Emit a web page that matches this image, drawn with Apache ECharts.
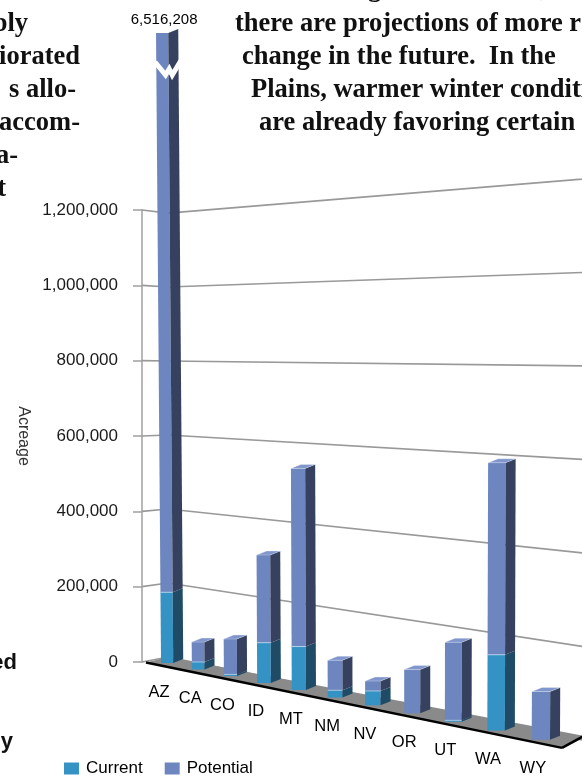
<!DOCTYPE html>
<html>
<head>
<meta charset="utf-8">
<script src="https://cdn.jsdelivr.net/npm/echarts@6/dist/echarts.min.js"></script>
<style>
html, body { margin: 0; padding: 0; background: #fff; }
#chart { width: 582px; height: 777px; }
</style>
</head>
<body>
<div id="chart"></div>
<script>
const states = ['AZ', 'CA', 'CO', 'ID', 'MT', 'NM', 'NV', 'OR', 'UT', 'WA', 'WY'];
const current = [185000, 19000, 4000, 99000, 105000, 17000, 33000, 0, 3000, 164000, 0];
const potential = [6331208, 51000, 89000, 216000, 430000, 71000, 23000, 99000, 173000, 416000, 102000];
const yTicks = [0, 200000, 400000, 600000, 800000, 1000000, 1200000];

const SANS = '"Liberation Sans", Arial, sans-serif';
const SERIF = '"Liberation Serif", "Times New Roman", serif';

const PERSP = 0.2;        // spacing of categories grows to the right
const AXIS_OFFSET = 10;   // left axis sits a bit left of the floor
const DEPTH = [10, 4];    // side / top face depth of a bar
const CAP_Y = 33;         // the AZ bar is cut here

const COLORS = {
    current: { front: '#3592c4', side: '#1f4b67', top: '#4ba1cd' },
    potential: { front: '#6d86c0', side: '#35415f', top: '#8196cc' }
};

let chart = echarts.init(document.getElementById('chart'));

function warpX(px, rect) {
    let u = (px - rect.x) / rect.width;
    return rect.x + rect.width * (1 - PERSP) * u / (1 - PERSP * u);
}
function frontBase(X, py0) { return py0 + 0.205 * (X - 162); }
function frontScale(X) { return 1 + (X - 142) * 0.000637; }
function backScale(x) { return 0.9916 + (x - 183) * 0.000624; }
function backBase(x, py0) { return py0 - 2 + 0.2 * (x - 183); }
function lean(X, h) { return h * 3.3e-5 * (X - 407); }

// back wall + left wall grid lines
function renderFrame(params, api) {
    let rect = params.coordSys;
    let v = api.value(1);
    let py0 = api.coord([0, 0])[1];
    let hv = py0 - api.coord([0, v])[1];
    let axisX = rect.x - AXIS_OFFSET;
    let yb = x => backBase(x, py0) - hv * backScale(x);
    return {
        type: 'polyline',
        shape: { points: [[axisX, py0 - hv], [168, yb(168)], [610, yb(610)]] },
        style: { stroke: '#999999', lineWidth: 1.7, fill: null }
    };
}

function renderFloor(params, api) {
    let rect = params.coordSys;
    let py0 = api.coord([0, 0])[1];
    let x0 = rect.x - AXIS_OFFSET + 4;
    let x1 = rect.x + rect.width - 2;
    let fy = x => py0 + 1 + 0.205 * (x - 148);
    let F1 = [x0, fy(x0)], F2 = [x1, fy(x1)];
    let B1 = [168, backBase(168, py0)], B2 = [x1 + 22, fy(x1) - 12];
    return {
        type: 'group',
        children: [
            { type: 'polygon', shape: { points: [F1, B1, B2, F2] }, style: { fill: '#8a8a8a' } },
            { type: 'line', shape: { x1: F1[0], y1: F1[1], x2: F2[0], y2: F2[1] }, style: { stroke: '#000', lineWidth: 2.5 } },
            { type: 'line', shape: { x1: F2[0], y1: F2[1], x2: B2[0], y2: B2[1] }, style: { stroke: '#000', lineWidth: 2.5 } }
        ]
    };
}

function renderBar(kind) {
    return function (params, api) {
        let rect = params.coordSys;
        let i = api.value(0);
        let lo = api.value(1), hi = api.value(2);
        let pz = api.coord([i, 0]);
        let X = warpX(pz[0], rect);
        let u = (pz[0] - rect.x) / rect.width;
        let stretch = (1 - PERSP) / Math.pow(1 - PERSP * u, 2);
        let w = api.size([1, 0])[0] * 0.4 * stretch;
        let base = frontBase(X, pz[1]);
        let k = frontScale(X);
        let yLo = base - (pz[1] - api.coord([i, lo])[1]) * k;
        let yHi = base - (pz[1] - api.coord([i, hi])[1]) * k;
        let broken = false;
        if (yHi < CAP_Y) { yHi = CAP_Y; broken = true; }
        let c = COLORS[kind];
        let dx = DEPTH[0], dy = DEPTH[1];
        let children = [];
        if (hi > lo) {
            let sLo = lean(X, base - yLo), sHi = lean(X, base - yHi);
            let xl = X - w / 2, xr = X + w / 2;
            children.push({
                type: 'polygon',
                shape: { points: [[xl + sLo, yLo], [xr + sLo, yLo], [xr + sHi, yHi], [xl + sHi, yHi]] },
                style: { fill: c.front }
            });
            children.push({
                type: 'polygon',
                shape: { points: [[xr + sLo, yLo], [xr + sHi, yHi], [xr + sHi + dx, yHi - dy], [xr + sLo + dx, yLo - dy]] },
                style: { fill: c.side }
            });
            if (kind === 'potential' && lo > 0) {
                children.push({
                    type: 'line',
                    shape: { x1: xl + sLo, y1: yLo, x2: xr + sLo, y2: yLo },
                    style: { stroke: 'rgba(200,225,245,0.7)', lineWidth: 1 }
                });
            }
            if (kind === 'potential' && !broken) {
                children.push({
                    type: 'polygon',
                    shape: { points: [[xl + sHi, yHi], [xr + sHi, yHi], [xr + sHi + dx, yHi - dy], [xl + sHi + dx, yHi - dy]] },
                    style: { fill: c.top, stroke: 'rgba(255,255,255,0.35)', lineWidth: 0.8 }
                });
            }
            if (kind === 'potential' && broken) {
                let xs = xl + sHi;
                children.push({
                    type: 'polyline',
                    shape: { points: [[xs - 1, yHi + 29], [xs + w * 0.78, yHi + 42], [xs + w + 1, yHi + 36], [xs + w + 4, yHi + 42], [xs + w + dx + 3, yHi + 27]] },
                    style: { stroke: '#fff', lineWidth: 5, fill: null, lineJoin: 'miter' }
                });
                children.push({
                    type: 'text',
                    style: {
                        text: (current[i] + potential[i]).toLocaleString('en-US'),
                        x: X + sHi + 2, y: yHi - 13,
                        align: 'center', verticalAlign: 'middle',
                        fontSize: 15, fontFamily: SANS, fill: '#000'
                    }
                });
            }
        }
        if (kind === 'potential') {
            children.push({
                type: 'text',
                style: {
                    text: states[i], x: X - 8, y: base + 29,
                    align: 'center', verticalAlign: 'middle',
                    fontSize: 16.5, fontFamily: SANS, fill: '#000'
                }
            });
        }
        return { type: 'group', children: children };
    };
}

// paragraph fragments of the surrounding page
const pageText = [
    ['are occurring across the US, and', 228, -11, 'left'],
    ['there are projections of more r', 235, 24, 'left'],
    ['change in the future.  In the', 242, 57, 'left'],
    ['Plains, warmer winter conditi', 251, 90, 'left'],
    ['are already favoring certain t', 259, 123, 'left'],
    ['ply', 28, 24, 'right'],
    ['iorated', 80, 57, 'right'],
    ['s allo-', 76, 90, 'right'],
    ['accom-', 80, 123, 'right'],
    ['a-', 18, 156, 'right'],
    ['t', 6, 189, 'right']
];
let graphic = pageText.map(t => ({
    type: 'text',
    style: {
        text: t[0], x: t[1], y: t[2], align: t[3], verticalAlign: 'middle',
        fontSize: 26.5, fontWeight: 'bold', fontFamily: SERIF, fill: '#111'
    }
}));
[['ed', 17, 663], ['ly', 13, 742]].forEach(t => graphic.push({
    type: 'text',
    style: {
        text: t[0], x: t[1], y: t[2], align: 'right', verticalAlign: 'middle',
        fontSize: 22, fontWeight: 'bold', fontFamily: SANS, fill: '#111'
    }
}));

let option = {
    animation: false,
    backgroundColor: '#fff',
    graphic: graphic,
    legend: {
        data: ['Current', 'Potential'],
        left: 59,
        top: 755,
        icon: 'rect',
        itemWidth: 15,
        itemHeight: 12,
        itemGap: 22,
        textStyle: { fontSize: 17, fontFamily: SANS, color: '#000', padding: [0, 0, 0, 2] }
    },
    grid: {
        left: 152,
        right: 18,
        top: 210,
        bottom: 115,
        outerBoundsMode: 'none'
    },
    xAxis: {
        type: 'category',
        data: states,
        show: false
    },
    yAxis: {
        type: 'value',
        min: 0,
        max: 1200000,
        interval: 200000,
        offset: AXIS_OFFSET,
        name: 'Acreage',
        nameLocation: 'middle',
        nameRotate: -90,
        nameGap: 110,
        nameTextStyle: { fontSize: 16, fontFamily: SANS, color: '#333' },
        axisLine: { show: true, lineStyle: { color: '#a0a0a0', width: 1.5 } },
        axisTick: { show: true, length: 9, lineStyle: { color: '#a0a0a0', width: 1.5 } },
        axisLabel: {
            margin: 24,
            fontSize: 17,
            fontFamily: SANS,
            color: '#1a1a1a',
            formatter: v => v.toLocaleString('en-US')
        },
        splitLine: { show: false }
    },
    series: [
        {
            type: 'custom',
            name: 'frame',
            silent: true,
            renderItem: renderFrame,
            data: yTicks.map(v => [0, v]),
            encode: { x: 0, y: 1 }
        },
        {
            type: 'custom',
            name: 'floor',
            silent: true,
            renderItem: renderFloor,
            data: [[0, 0]],
            encode: { x: 0, y: 1 }
        },
        {
            type: 'custom',
            name: 'Current',
            itemStyle: { color: COLORS.current.front },
            renderItem: renderBar('current'),
            data: states.map((s, i) => [i, 0, current[i]]),
            encode: { x: 0, y: [1, 2] }
        },
        {
            type: 'custom',
            name: 'Potential',
            itemStyle: { color: COLORS.potential.front },
            renderItem: renderBar('potential'),
            data: states.map((s, i) => [i, current[i], current[i] + potential[i]]),
            encode: { x: 0, y: [1, 2] }
        }
    ]
};
chart.setOption(option);
</script>
</body>
</html>
